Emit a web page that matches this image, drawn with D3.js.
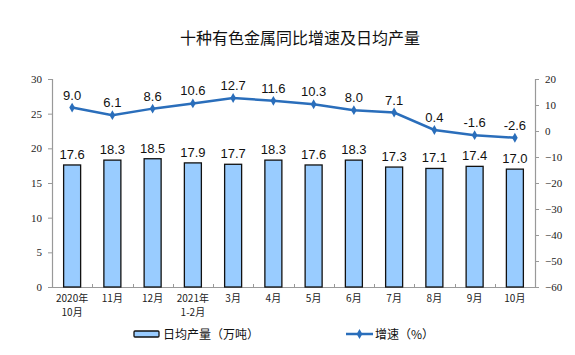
<!DOCTYPE html>
<html><head><meta charset="utf-8">
<script src="https://cdn.jsdelivr.net/npm/d3@7"></script>
<style>body{margin:0;background:#fff}svg{display:block}</style>
</head><body>
<script>
const categories = [["2020年","10月"],["11月"],["12月"],["2021年","1-2月"],["3月"],["4月"],["5月"],["6月"],["7月"],["8月"],["9月"],["10月"]];
const output = [17.6,18.3,18.5,17.9,17.7,18.3,17.6,18.3,17.3,17.1,17.4,17.0];
const growth = [9.0,6.1,8.6,10.6,12.7,11.6,10.3,8.0,7.1,0.4,-1.6,-2.6];
const leftTicks = [0,5,10,15,20,25,30];
const rightTicks = [-60,-50,-40,-30,-20,-10,0,10,20];
const title = "十种有色金属同比增速及日均产量";
const legendBar = "日均产量（万吨）";
const legendLine = "增速（%）";

const W=575,H=355;
const svg=d3.select("body").append("svg").attr("width",W).attr("height",H);
const L=52,R=535,T=79,B=287;
const x=d3.scaleBand().domain(d3.range(categories.length)).range([L,R]);
const yL=d3.scaleLinear().domain([0,30]).range([B,T]);
const yR=d3.scaleLinear().domain([-60,20]).range([B,T]);
const serif="'Liberation Serif','Times New Roman',serif";
const cjk="'Noto Sans CJK SC',sans-serif";
const sans="'Liberation Sans',Arial,sans-serif";

svg.append("text").attr("x",300).attr("y",44).attr("text-anchor","middle")
  .attr("font-family",cjk).attr("font-size",16).attr("fill","#111").text(title);

const gL=svg.append("g").attr("transform",`translate(${L},0)`)
  .call(d3.axisLeft(yL).tickValues(leftTicks).tickSize(4).tickPadding(6));
const gR=svg.append("g").attr("transform",`translate(${R},0)`)
  .call(d3.axisRight(yR).tickValues(rightTicks).tickSize(4).tickPadding(6));
[gL,gR].forEach(g=>{
  g.select(".domain").attr("stroke","#999").attr("stroke-width",1.2);
  g.selectAll(".tick line").attr("stroke","#999");
  g.selectAll(".tick text").attr("font-family",serif).attr("font-size",11).attr("fill","#222");
});

svg.append("line").attr("x1",L).attr("x2",R).attr("y1",B+0.5).attr("y2",B+0.5).attr("stroke","#999").attr("stroke-width",1.2);
svg.append("g").selectAll("line").data(d3.range(1,categories.length)).join("line")
  .attr("x1",i=>Math.round(L+i*x.step())+0.5).attr("x2",i=>Math.round(L+i*x.step())+0.5)
  .attr("y1",B).attr("y2",B-3).attr("stroke","#999");
const lines=[];
categories.forEach((d,i)=>d.forEach((s,j)=>lines.push({i,j,s})));
svg.append("g").selectAll("text").data(lines).join("text")
  .attr("x",d=>x(d.i)+x.bandwidth()/2).attr("y",d=>302+d.j*14).attr("text-anchor","middle")
  .attr("font-family",cjk).attr("font-size",10).attr("fill","#222").text(d=>d.s);

const bw=17;
svg.append("g").selectAll("rect").data(output).join("rect")
  .attr("x",(d,i)=>x(i)+x.bandwidth()/2-bw/2).attr("width",bw)
  .attr("y",d=>yL(d)).attr("height",d=>B-yL(d))
  .attr("fill","#99CCFF").attr("stroke","#111").attr("stroke-width",1.3);
svg.append("g").selectAll("text").data(output).join("text")
  .attr("x",(d,i)=>x(i)+x.bandwidth()/2).attr("y",d=>yL(d)-6).attr("text-anchor","middle")
  .attr("font-family",sans).attr("font-size",13).attr("fill","#111").text(d=>d.toFixed(1));

const lc="#2A6EBB";
svg.append("path").datum(growth)
  .attr("d",d3.line().x((d,i)=>x(i)+x.bandwidth()/2).y(d=>yR(d)))
  .attr("fill","none").attr("stroke",lc).attr("stroke-width",2.5);
svg.append("g").selectAll("path").data(growth).join("path")
  .attr("d",d3.symbol(d3.symbolDiamond,28))
  .attr("transform",(d,i)=>`translate(${x(i)+x.bandwidth()/2},${yR(d)})`).attr("fill",lc);
svg.append("g").selectAll("text").data(growth).join("text")
  .attr("x",(d,i)=>x(i)+x.bandwidth()/2).attr("y",d=>yR(d)-8).attr("text-anchor","middle")
  .attr("font-family",sans).attr("font-size",13).attr("fill","#111").text(d=>d.toFixed(1));

svg.append("rect").attr("x",134).attr("y",331).attr("width",25).attr("height",6)
  .attr("fill","#99CCFF").attr("stroke","#111").attr("stroke-width",1.3).attr("rx",1);
svg.append("text").attr("x",163).attr("y",338.5).attr("font-family",cjk).attr("font-size",12).attr("fill","#111").text(legendBar);
svg.append("line").attr("x1",346).attr("x2",373).attr("y1",334).attr("y2",334).attr("stroke",lc).attr("stroke-width",2.5);
svg.append("path").attr("d",d3.symbol(d3.symbolDiamond,28)).attr("transform","translate(359.5,334)").attr("fill",lc);
svg.append("text").attr("x",375).attr("y",338.5).attr("font-family",cjk).attr("font-size",12).attr("fill","#111").text(legendLine);
</script>
</body></html>
